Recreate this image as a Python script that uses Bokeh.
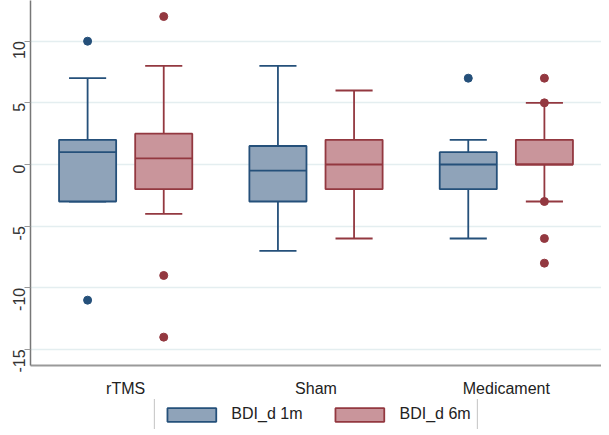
import math
from bokeh.plotting import figure
from bokeh.layouts import column
from bokeh.models import (ColumnDataSource, FixedTicker, Legend, LegendItem,
                          Range1d, FactorRange)
from bokeh.transform import dodge
from bokeh.embed import file_html
from bokeh.resources import INLINE

# ---- data ----
groups = ["rTMS", "Sham", "Medicament"]
series_labels = ["BDI_d 1m", "BDI_d 6m"]

q1_1m = [-3, -3, -2]
med_1m = [1, -0.5, 0]
q3_1m = [2, 1.5, 1]
lo_1m = [-3, -7, -6]
hi_1m = [7, 8, 2]

q1_6m = [-2, -2, 0]
med_6m = [0.5, 0, 0]
q3_6m = [2.5, 2, 2]
lo_6m = [-4, -6, -3]
hi_6m = [8, 6, 5]

out_1m_group = ["rTMS", "rTMS", "Medicament"]
out_1m_val = [10, -11, 7]
out_6m_group = ["rTMS", "rTMS", "rTMS", "Medicament", "Medicament",
                "Medicament", "Medicament", "Medicament"]
out_6m_val = [12, -9, -14, 7, 5, -3, -6, -8]

y_ticks = [-15, -10, -5, 0, 5, 10]

# ---- style ----
FONT = "Liberation Sans"
fills = ["#8fa3b9", "#c9959b"]
lines = ["#25507a", "#933840"]
offsets = [-0.2, 0.2]
box_w = 0.3
cap_w = 0.195
NAN = float("nan")

p = figure(frame_width=571, frame_height=365,
           x_range=FactorRange(factors=groups, range_padding=0),
           y_range=Range1d(-16.3, 13.3), output_backend="svg", toolbar_location=None,
           min_border_left=30, min_border_right=0, min_border_top=0, min_border_bottom=32)
p.outline_line_color = None
p.background_fill_color = "white"

# legend-only strip below the chart
lg = figure(width=601, height=30, x_range=Range1d(0, 1), y_range=Range1d(0, 1),
            x_axis_type=None, y_axis_type=None, output_backend="svg",
            toolbar_location=None, min_border=0, min_border_left=30)
lg.outline_line_color = None
lg.grid.visible = False

data = [
    (q1_1m, med_1m, q3_1m, lo_1m, hi_1m, out_1m_group, out_1m_val),
    (q1_6m, med_6m, q3_6m, lo_6m, hi_6m, out_6m_group, out_6m_val),
]

legend_items = []
for i, (q1, med, q3, lo, hi, og, ov) in enumerate(data):
    src = ColumnDataSource(dict(group=groups, q1=q1, med=med, q3=q3, lo=lo, hi=hi))
    off = offsets[i]
    p.segment(x0=dodge("group", off, range=p.x_range), y0="q3",
              x1=dodge("group", off, range=p.x_range), y1="hi", source=src,
              line_color=lines[i], line_width=1.8)
    p.segment(x0=dodge("group", off, range=p.x_range), y0="q1",
              x1=dodge("group", off, range=p.x_range), y1="lo", source=src,
              line_color=lines[i], line_width=1.8)
    p.segment(x0=dodge("group", off - cap_w / 2, range=p.x_range), y0="hi",
              x1=dodge("group", off + cap_w / 2, range=p.x_range), y1="hi", source=src,
              line_color=lines[i], line_width=1.8)
    p.segment(x0=dodge("group", off - cap_w / 2, range=p.x_range), y0="lo",
              x1=dodge("group", off + cap_w / 2, range=p.x_range), y1="lo", source=src,
              line_color=lines[i], line_width=1.8)
    p.vbar(x=dodge("group", off, range=p.x_range), width=box_w, top="q3", bottom="q1",
           source=src, fill_color=fills[i], line_color=lines[i], line_width=1.8)
    p.segment(x0=dodge("group", off - box_w / 2, range=p.x_range), y0="med",
              x1=dodge("group", off + box_w / 2, range=p.x_range), y1="med", source=src,
              line_color=lines[i], line_width=1.8)
    osrc = ColumnDataSource(dict(group=og, val=ov))
    p.scatter(x=dodge("group", off, range=p.x_range), y="val", source=osrc,
              size=8, fill_color=lines[i], line_color=lines[i])
    # legend swatch renderer (draws nothing itself) in the legend strip
    sw = lg.quad(left=[NAN], right=[NAN], top=[NAN], bottom=[NAN],
                 fill_color=fills[i], line_color=lines[i], line_width=1.8)
    legend_items.append(LegendItem(label=series_labels[i], renderers=[sw]))

p.xgrid.grid_line_color = None
p.ygrid.ticker = FixedTicker(ticks=y_ticks)
p.ygrid.grid_line_color = "#e4eef0"
p.ygrid.grid_line_width = 1.5

p.yaxis.ticker = FixedTicker(ticks=y_ticks)
p.yaxis.major_label_overrides = {t: str(t) for t in y_ticks}
p.yaxis.major_label_orientation = math.pi / 2
p.yaxis.major_label_text_font = FONT
p.yaxis.major_label_text_font_size = "16px"
p.yaxis.major_label_text_color = "#333333"
p.yaxis.major_label_standoff = 5
p.yaxis.major_tick_out = 6
p.yaxis.major_tick_in = 0
p.yaxis.minor_tick_line_color = None
p.yaxis.axis_line_color = "#777777"
p.yaxis.major_tick_line_color = "#999999"
p.yaxis.axis_line_width = 1.5

p.xaxis.major_tick_line_color = None
p.xaxis.minor_tick_line_color = None
p.xaxis.axis_line_color = "#9a9a9a"
p.xaxis.axis_line_width = 2
p.xaxis.major_label_text_font = FONT
p.xaxis.major_label_text_font_size = "16px"
p.xaxis.major_label_text_color = "#222222"
p.xaxis.major_label_standoff = 8

legend = Legend(items=legend_items, orientation="horizontal", location="center",
                glyph_width=61, glyph_height=17, label_height=17,
                label_standoff=10, spacing=26, padding=6, margin=0,
                label_text_font=FONT, label_text_font_size="16px",
                label_text_color="#222222",
                border_line_color="#8a8a8a", border_line_width=1,
                background_fill_color="white", background_fill_alpha=1.0)
lg.add_layout(legend, "center")

layout = column(p, lg, spacing=0)
open("out.html", "w").write(file_html(layout, INLINE))
